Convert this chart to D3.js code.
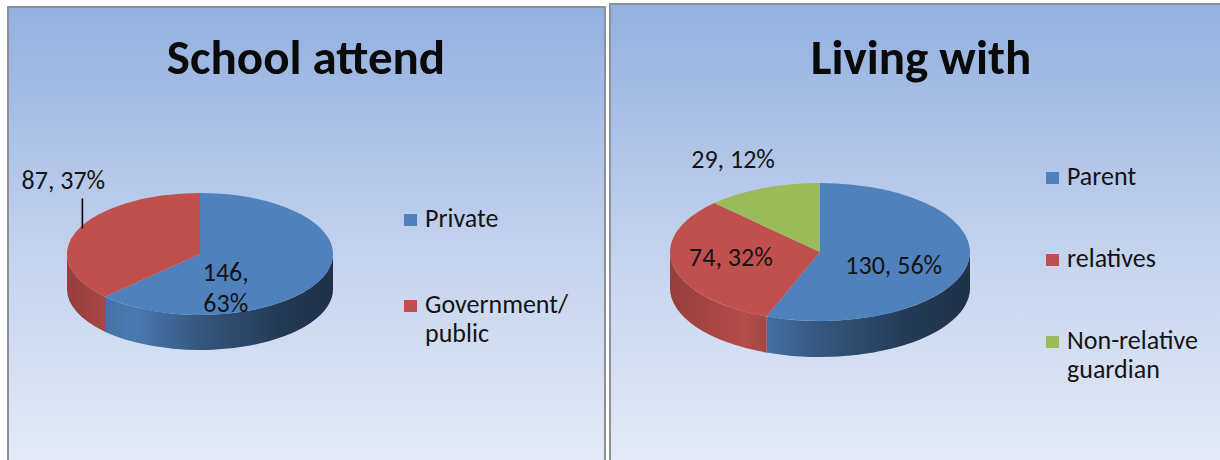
<!DOCTYPE html>
<meta charset="utf-8">
<head>
<title>School attend / Living with</title>
<style>
  body { margin: 0; background: #fff; }
  svg { display: block; font-family: Carlito, Calibri, Lato, sans-serif; }
  .title { font-weight: bold; font-size: 49px; fill: #0a0a0a; text-anchor: middle; }
  .legtext { font-size: 26px; fill: #141414; }
  .datalabel { font-size: 26px; fill: #141414; text-anchor: middle; }
</style>
</head>
<body>
<svg width="1220" height="460"></svg>

<script src="https://d3js.org/d3.v7.min.js"></script>
<script>

// data
var schoolCategories = ["Private", "Government/public"];
var schoolValues = [146, 87];

var livingCategories = ["Parent", "relatives", "Non-relative guardian"];
var livingValues = [130, 74, 29];

var seriesColors = ["#4f81bd", "#c0504d", "#9bbb59"];

var svg = d3.select("svg");
var defs = svg.append("defs");

// panel background
var bg = defs.append("linearGradient")
    .attr("id", "panelbg")
    .attr("x1", 0).attr("y1", 0).attr("x2", 0).attr("y2", 1);
bg.append("stop").attr("offset", "0%").attr("stop-color", "#93b0e0");
bg.append("stop").attr("offset", "55%").attr("stop-color", "#c6d4ee");
bg.append("stop").attr("offset", "100%").attr("stop-color", "#e6ecf7");

var panels = [
  {x: 8,   y: 7, w: 597, h: 470},
  {x: 610, y: 4, w: 620, h: 470}
];
svg.selectAll(".panel")
  .data(panels)
  .enter().append("rect")
    .attr("class", "panel")
    .attr("x", function(d) { return d.x; })
    .attr("y", function(d) { return d.y; })
    .attr("width", function(d) { return d.w; })
    .attr("height", function(d) { return d.h; })
    .attr("fill", "url(#panelbg)")
    .attr("stroke", "#8b9099")
    .attr("stroke-width", 2);

var charts = [
  {
    id: "school", title: "School attend", titleX: 306,
    categories: schoolCategories, values: schoolValues,
    cx: 200, cy: 254, rx: 133, ry: 61, depth: 35,
    legendX: 404, legendY: 227, legendStep: 86,
    // label placement along the slice mid angle (k = fraction of radius)
    labels: [
      {k: 0.3, dx: -11, dy: 20, wrap: true},
      {k: 1.0, dx: -14, dy: -41, leader: true}
    ]
  },
  {
    id: "living", title: "Living with", titleX: 921,
    categories: livingCategories, values: livingValues,
    cx: 820, cy: 252, rx: 150, ry: 69, depth: 36,
    legendX: 1046, legendY: 185, legendStep: 82,
    labels: [
      {k: 0.5, dx: 0, dy: 16},
      {k: 0.6, dx: -1, dy: 5},
      {k: 1.45, dx: -4, dy: 8}
    ]
  }
];

charts.forEach(function(c) {

  var data = c.categories.map(function(name, i) { return {name: name, value: c.values[i]}; });
  var total = d3.sum(c.values);
  var pct = d3.format(".0%");

  var color = d3.scaleOrdinal().domain(c.categories).range(seriesColors);

  var arcs = d3.pie().sort(null).value(function(d) { return d.value; })(data);

  function pt(a, down) {
    return [c.cx + c.rx * Math.sin(a), c.cy - c.ry * Math.cos(a) + (down || 0)];
  }

  // dark overlay on the pie wall, lighter at left, dark to the right
  var shade = defs.append("linearGradient")
      .attr("id", "shade-" + c.id)
      .attr("gradientUnits", "userSpaceOnUse")
      .attr("x1", c.cx - c.rx).attr("y1", 0)
      .attr("x2", c.cx + c.rx).attr("y2", 0);
  [[0, 0.22], [0.25, 0.06], [0.5, 0.33], [0.8, 0.55], [1, 0.62]].forEach(function(s) {
    shade.append("stop")
      .attr("offset", s[0])
      .attr("stop-color", "#000")
      .attr("stop-opacity", s[1]);
  });

  var g = svg.append("g").attr("class", "chart-" + c.id);

  g.append("text")
    .attr("class", "title")
    .attr("x", c.titleX)
    .attr("y", 74)
    .text(c.title);

  // walls (front half only)
  var walls = arcs.map(function(d) {
    var s = Math.max(d.startAngle, Math.PI / 2),
        e = Math.min(d.endAngle, 3 * Math.PI / 2);
    if (s >= e) return null;
    var p0 = pt(s), p1 = pt(e), p2 = pt(e, c.depth), p3 = pt(s, c.depth);
    return {d: d, path: "M" + p0 + " A" + c.rx + "," + c.ry + " 0 0 1 " + p1 +
      " L" + p2 + " A" + c.rx + "," + c.ry + " 0 0 0 " + p3 + " Z"};
  }).filter(function(w) { return w; });

  g.selectAll(".wall")
    .data(walls)
    .enter().append("path")
      .attr("class", "wall")
      .attr("d", function(w) { return w.path; })
      .attr("fill", function(w) { return color(w.d.data.name); });

  g.selectAll(".wallshade")
    .data(walls)
    .enter().append("path")
      .attr("class", "wallshade")
      .attr("d", function(w) { return w.path; })
      .attr("fill", "url(#shade-" + c.id + ")");

  // top faces
  g.selectAll(".top")
    .data(arcs)
    .enter().append("path")
      .attr("class", "top")
      .attr("d", function(d) {
        var p0 = pt(d.startAngle), p1 = pt(d.endAngle);
        var large = d.endAngle - d.startAngle > Math.PI ? 1 : 0;
        return "M" + c.cx + "," + c.cy + " L" + p0 + " A" + c.rx + "," + c.ry +
          " 0 " + large + " 1 " + p1 + " Z";
      })
      .attr("fill", function(d) { return color(d.data.name); });

  // data labels
  arcs.forEach(function(d, i) {
    var L = c.labels[i];
    var mid = (d.startAngle + d.endAngle) / 2;
    var p = [c.cx + c.rx * L.k * Math.sin(mid) + L.dx, c.cy - c.ry * L.k * Math.cos(mid) + L.dy];
    var lines = L.wrap ? [d.value + ",", pct(d.value / total)] : [d.value + ", " + pct(d.value / total)];
    var t = g.append("text")
      .attr("class", "datalabel")
      .attr("x", p[0])
      .attr("y", p[1]);
    lines.forEach(function(s, j) {
      t.append("tspan").attr("x", p[0]).attr("dy", j ? 31 : 0).text(s);
    });
    if (L.leader) {
      var edge = pt(mid);
      g.append("line")
        .attr("x1", edge[0] + 5).attr("y1", p[1] + 9)
        .attr("x2", edge[0] + 5).attr("y2", edge[1] - 2)
        .attr("stroke", "#000")
        .attr("stroke-width", 1.6);
    }
  });

  // legend
  var leg = g.selectAll(".leg")
    .data(c.categories)
    .enter().append("g")
      .attr("class", "leg")
      .attr("transform", function(d, i) {
        return "translate(" + c.legendX + "," + (c.legendY + i * c.legendStep) + ")";
      });

  leg.append("rect")
    .attr("x", 0).attr("y", -13)
    .attr("width", 13).attr("height", 12)
    .attr("fill", function(d) { return color(d); });

  leg.append("text")
    .attr("class", "legtext")
    .attr("x", 21)
    .attr("y", 0)
    .each(function(d) {
      var parts = d.split(/(?<=\/)|\s+/);
      var self = d3.select(this);
      parts.forEach(function(s, j) {
        self.append("tspan").attr("x", 21).attr("dy", j ? 29 : 0).text(s);
      });
    });
});

</script>
</body>
